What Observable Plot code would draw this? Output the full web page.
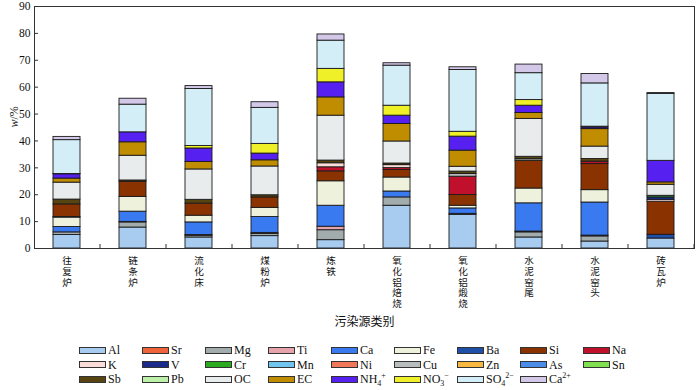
<!DOCTYPE html>
<html lang="zh-CN"><head><meta charset="utf-8">
<script src="https://cdn.jsdelivr.net/npm/d3@7"></script>
<script src="https://cdn.jsdelivr.net/npm/@observablehq/plot@0.6"></script>
<style>
body{margin:0;background:#fff;font-family:"Liberation Serif","DejaVu Serif",serif;}
#wrap{position:relative;width:700px;height:390px;}
#legend{position:absolute;left:0;top:343px;width:700px;}
.item{position:absolute;display:flex;align-items:center;font-size:12px;color:#111;height:14px;line-height:14px;}
.sw{width:25px;height:5px;border:1px solid #333;margin-right:2px;}
sub,sup{font-size:8px;line-height:0;}
</style></head><body><div id="wrap"><div id="chart"></div><div id="legend"></div></div>
<script>
const categories = ["往复炉","链条炉","流化床","煤粉炉","炼铁","氧化铝焙烧","氧化铝煅烧","水泥窑尾","水泥窑头","砖瓦炉"];
const components = ["Al","Sr","Mg","Ti","Ca","Fe","Ba","Si","Na","K","V","Cr","Mn","Ni","Cu","Zn","As","Sn","Sb","Pb","OC","EC","NH4+","NO3-","SO42-","Ca2+"];
const legendLabels = ["Al","Sr","Mg","Ti","Ca","Fe","Ba","Si","Na","K","V","Cr","Mn","Ni","Cu","Zn","As","Sn","Sb","Pb","OC","EC","NH<sub>4</sub><sup>+</sup>","NO<sub>3</sub><sup>−</sup>","SO<sub>4</sub><sup>2−</sup>","Ca<sup>2+</sup>"];
const colors = ["#a8cbf0","#f0643c","#a3acac","#e8a4ac","#3a7af0","#eef2dc","#1f4fa8","#8a3200","#c0102c","#fbdcd8","#1a2a8a","#2aaa1e","#70c4f0","#f07858","#b8bcbc","#f8b840","#4a8ce8","#80e050","#574410","#bcf0a8","#e8eced","#c08c00","#5520f0","#f0f028","#d4eef8","#d4c8e8"];
const yTicks = [0,10,20,30,40,50,60,70,80,90];

// values per category, in component order
const v_wangfulu   = [5.0,0,1.0,0,2.0,3.5,0.2,4.7,0,0,0,0,0,0,0,0,0,0,1.8,0,6.3,1.5,1.6,0.1,12.6,1.2];
const v_liantiaolu = [7.8,0,1.9,0.2,3.8,5.5,0,5.6,0,0,0,0,0,0,0,0,0,0,0.5,0,9.2,5.0,3.7,0,10.3,2.2];
const v_liuhuachuang=[4.1,0,0.6,0.3,4.7,2.5,0,4.5,0,0,0,0,0,0,0,0,0,0,1.4,0,11.3,2.8,5.0,0.9,21.2,1.1];
const v_meifenlu   = [4.6,0,0.8,0.4,5.9,3.4,0,3.9,0,0,0,0,0,0,0,0,0,0,0.8,0,10.7,2.3,2.5,3.6,13.4,2.1];
const v_liantie    = [3.1,0,3.7,1.3,7.8,9.1,0,3.7,1.5,1.5,0,0,0,0,0,0,0,0,1.0,0,16.7,6.8,5.6,5.0,10.5,2.3];
const v_beishao    = [15.9,0,3.1,0,2.2,5.2,0,2.8,0.7,1.1,0,0,0,0,0,0,0,0,0.6,0,8.2,6.5,3.1,3.7,14.9,0.9];
const v_duanshao   = [12.5,0,0.4,0,2.0,1.0,0,4.0,6.8,0,0,0,0,0,1.0,0,0,0,0.9,0,1.8,6.0,5.2,1.8,23.0,1.0];
const v_yaowei     = [4.1,0,1.9,0.3,10.5,5.5,0,10.3,0,0,0,0,0,0,0.6,0,0,0,0.9,0,14.1,2.2,2.7,2.1,10.0,3.2];
const v_yaotou     = [2.6,0,1.9,0.3,12.3,4.6,0,9.7,0.9,0,0,0,0,0,0,0,0,0,1.0,0,4.6,6.5,0.6,0.3,16.1,3.5];
const v_zhuanwalu  = [3.7,0,0,0,0,0,1.4,12.3,0,0.7,0.9,0.6,0,0,0,0,0,0,0,0,4.1,0.9,8.0,0,24.9,0.3];
const seriesByCat = [v_wangfulu,v_liantiaolu,v_liuhuachuang,v_meifenlu,v_liantie,v_beishao,v_duanshao,v_yaowei,v_yaotou,v_zhuanwalu];

const rows = [];
categories.forEach((c,i)=>components.forEach((k,j)=>{
  const v = seriesByCat[i][j];
  if (v > 0) rows.push({cat:c, comp:k, value:v});
}));

const cjk = "'Noto Sans CJK SC', sans-serif";
const cjkTick = "'Liberation Serif','Noto Sans CJK SC', serif";
const plot = Plot.plot({
  width:700, height:338, marginTop:6, marginBottom:90, marginLeft:34, marginRight:6,
  style:{fontFamily:"'Liberation Serif','DejaVu Serif',serif", fontSize:"11.5px", background:"#fff", color:"#111"},
  x:{domain:categories, paddingInner:0.59, paddingOuter:0.295, label:null, axis:null},
  y:{domain:[0,90], label:null, axis:null},
  color:{domain:components, range:colors},
  marks:[
    Plot.barY(rows, {x:"cat", y:"value", fill:"comp", stroke:"#1a1a1a", strokeWidth:0.9}),
    Plot.frame({stroke:"#333", strokeWidth:1}),
    Plot.axisY(yTicks, {tickSize:-4, tickFormat:()=>"", stroke:"#333"}),
    Plot.axisY(yTicks, {tickSize:0, tickPadding:4, fontSize:11.5}),
    Plot.axisX(categories, {tickSize:-4, tickFormat:()=>"", dx:33, stroke:"#333"}),
    Plot.axisX(categories, {tickSize:0, tickPadding:8, tickFormat:d=>d.split("").join("\n"), fontFamily:cjkTick, fontSize:9.6, lineHeight:1.12}),
    Plot.text(["污染源类别"], {frameAnchor:"bottom", dy:77, fontSize:12, fontFamily:cjk}),
    Plot.text(["w/%"], {frameAnchor:"left", dx:-20, rotate:-90, fontSize:12})
  ]
});
document.getElementById("chart").appendChild(plot);
// italic w in the y label
plot.querySelectorAll("text").forEach(t=>{
  if (t.textContent === "w/%") t.innerHTML = '<tspan font-style="italic">w</tspan>/%';
});

const lg = document.getElementById("legend");
components.forEach((k,j)=>{
  const row = Math.floor(j/9), col = j%9;
  const d = document.createElement("div");
  d.className = "item";
  d.style.left = (79 + col*63) + "px";
  d.style.top = (row*14.7) + "px";
  d.innerHTML = `<span class="sw" style="background:${colors[j]}"></span><span>${legendLabels[j]}</span>`;
  lg.appendChild(d);
});
</script></body></html>
